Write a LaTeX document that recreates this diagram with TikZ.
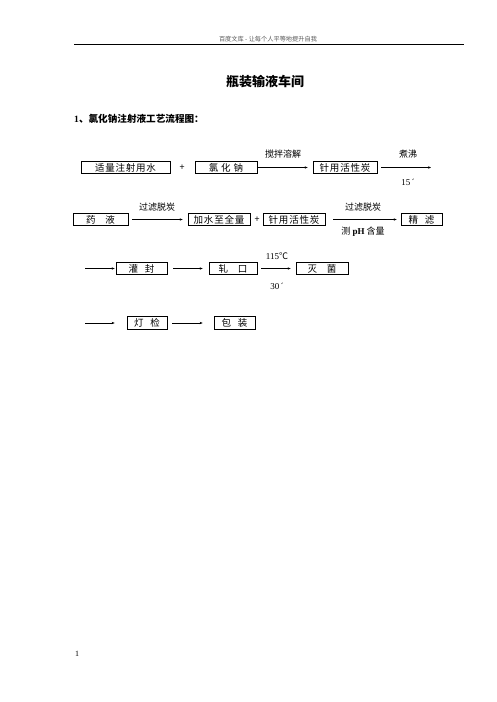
\documentclass[tikz,border=0pt]{standalone}
\usepackage{fontspec}
\setmainfont{Liberation Serif}
\newfontfamily\cjk{Noto Sans CJK SC}
\newfontfamily\cjkbox{Noto Sans CJK SC}[LetterSpace=8]
\usetikzlibrary{arrows.meta}
\begin{document}
\begin{tikzpicture}[x=1pt,y=-1pt,
  box/.style={draw,line width=0.7pt,minimum height=12.5pt,inner sep=0pt,anchor=center,font=\cjkbox\fontsize{9.5pt}{9.5pt}\selectfont},
  lbl/.style={inner sep=0pt,font=\cjk\fontsize{9pt}{9pt}\selectfont},
  flow/.style={line width=0.55pt,-{Stealth[length=3pt,width=2.4pt]}}]
\useasboundingbox (0,0) rectangle (496,702);
\fill[white] (0,0) rectangle (496,702);
% header
\node[inner sep=0pt,text=black!65,font=\cjk\fontsize{6.2pt}{6.2pt}\selectfont] (hdr) at (268,39) {百度文库 - 让每个人平等地提升自我};
\coordinate (hl) at (74,44);
\coordinate (hr) at (464,44);
\draw[line width=0.9pt] (hl) -- (hr);
% title
\node[inner sep=0pt,font=\cjk\bfseries\fontsize{13pt}{13pt}\selectfont] (title) at (265,82) {瓶装输液车间};
\node[inner sep=0pt,anchor=west,font=\cjk\bfseries\fontsize{9.6pt}{9.6pt}\selectfont] (sub) at (74,119) {{\fontspec{Liberation Serif}\bfseries 1}、氯化钠注射液工艺流程图：};
% row 1
\node[box,minimum width=89pt] (b1) at (125.5,167.5) {适量注射用水};
\node[lbl] (p1) at (182,167.5) {+};
\node[box,minimum width=62pt] (b2) at (226,167.5) {氯\hspace{3pt}化\hspace{3pt}钠};
\node[box,minimum width=64pt] (b3) at (345,167.5) {针用活性炭};
\coordinate (c1) at (431,167.5);
\draw[flow,shorten >=5pt] (b2.east) -- (b3.west);
\node[lbl] (l1) at (283,154) {搅拌溶解};
\draw[flow,shorten <=4pt] (b3.east) -- (c1);
\node[lbl] (l2) at (408,154) {煮沸};
\node[lbl,font=\fontsize{9pt}{9pt}\selectfont] (l3) at (408,182) {15\,´};
% row 2
\node[box,minimum width=55pt] (b4) at (100.5,219.5) {药\hspace{10pt}液};
\node[box,minimum width=62pt] (b5) at (219,219.5) {加水至全量};
\node[lbl] (p2) at (257,219.5) {+};
\node[box,minimum width=62pt] (b6) at (294,219.5) {针用活性炭};
\node[box,minimum width=41pt] (b7) at (421.5,219.5) {精\hspace{7pt}滤};
\draw[flow,shorten <=4pt,shorten >=5pt] (b4.east) -- (b5.west);
\node[lbl] (l4) at (157,207) {过滤脱炭};
\draw[flow,shorten <=8pt,shorten >=4pt] (b6.east) -- (b7.west);
\node[lbl] (l5) at (363,207) {过滤脱炭};
\node[lbl] (l6) at (363,232) {测 {\fontspec{Liberation Serif}\bfseries pH} 含量};
% row 3
\coordinate (c2) at (85,268.5);
\node[box,minimum width=51pt] (b8) at (141.5,268.5) {灌\hspace{7pt}封};
\node[box,minimum width=48pt] (b9) at (233,268.5) {轧\hspace{10pt}口};
\node[box,minimum width=52pt] (b10) at (322,268.5) {灭\hspace{10pt}菌};
\draw[flow,shorten >=1pt] (c2) -- (b8.west);
\draw[flow,shorten <=6pt,shorten >=6pt] (b8.east) -- (b9.west);
\draw[flow,shorten <=4pt,shorten >=5pt] (b9.east) -- (b10.west);
\node[lbl] (l7) at (277,256) {{\fontspec{Liberation Serif}115}℃};
\node[lbl,font=\fontsize{9pt}{9pt}\selectfont] (l8) at (277,286) {30\,´};
% row 4
\coordinate (c3) at (85,323);
\node[box,minimum width=40pt] (b11) at (147,323) {灯\hspace{7pt}检};
\node[box,minimum width=41pt] (b12) at (234.5,323) {包\hspace{7pt}装};
\draw[flow,shorten >=12pt] (c3) -- (b11.west);
\draw[flow,shorten <=5pt,shorten >=11pt] (b11.east) -- (b12.west);
% page number
\node[inner sep=0pt,font=\fontsize{8pt}{8pt}\selectfont] (pg) at (77,654) {1};
\end{tikzpicture}
\end{document}
